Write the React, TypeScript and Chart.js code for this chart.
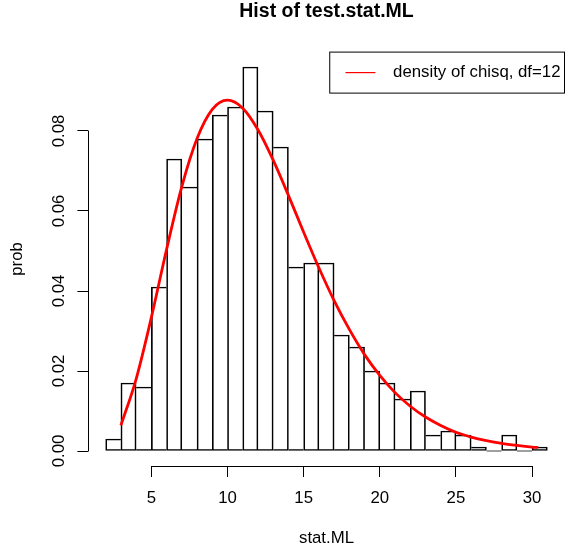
import React, { useEffect, useRef } from "react";
import { Chart, registerables } from "chart.js";

Chart.register(...registerables);

// ---- data ----
const binStarts = [2, 3, 4, 5, 6, 7, 8, 9, 10, 11, 12, 13, 14, 15, 16, 17, 18, 19, 20, 21, 22, 23, 24, 25, 26, 27, 28, 29, 30];
const binDensity = [
  0.003, 0.017, 0.016, 0.041, 0.073, 0.066, 0.078, 0.084, 0.086, 0.096,
  0.085, 0.076, 0.046, 0.047, 0.047, 0.029, 0.026, 0.020, 0.017, 0.013,
  0.015, 0.004, 0.005, 0.004, 0.001, 0, 0.004, 0, 0.001,
];
const binWidth = 1;
const curveX = [3, 4, 5, 6, 7, 8, 9, 10, 11, 12, 13, 14, 15, 16, 17, 18, 19, 20, 21, 22, 23, 24, 25, 26, 27, 28, 29, 30, 30.4];
const curveY = [
  0.0064, 0.018, 0.0334, 0.0504, 0.0661, 0.0781, 0.0854, 0.0877, 0.0857, 0.0803,
  0.0727, 0.0639, 0.0547, 0.0458, 0.0376, 0.0304, 0.0241, 0.0189, 0.0146, 0.0112,
  0.0085, 0.0064, 0.0047, 0.0035, 0.0026, 0.0019, 0.0014, 0.001, 0.0009,
];
const xTicks = [5, 10, 15, 20, 25, 30];
const yTicks = [0, 0.02, 0.04, 0.06, 0.08];
const titleText = "Hist of test.stat.ML";
const xTitle = "stat.ML";
const yTitle = "prob";
const legendLabel = "density of chisq, df=12";

const FAMILY = "'Liberation Sans', Arial, Helvetica, sans-serif";
const FONT_SIZE = 16.8;

// R-style 4% axis extension
const xLo = binStarts[0];
const xHi = binStarts[binStarts.length - 1] + binWidth;
const yHi = Math.max(...binDensity);
const xMin = xLo - (xHi - xLo) * 0.04;
const xMax = xHi + (xHi - xLo) * 0.04;
const yMin = -yHi * 0.04;
const yMax = yHi * 1.04;

// each shared edge is drawn once, by the taller of the two neighbouring bars
const barBorder = (c: any) => {
  const i = c.dataIndex;
  const n = binDensity.length;
  const h = binDensity[i];
  const left = i === 0 || h > binDensity[i - 1] ? 1 : 0;
  const right = i === n - 1 || h >= binDensity[i + 1] ? 1 : 0;
  return { left, right, top: 1, bottom: 1 };
};

const rStylePlugin = {
  id: "rStyle",
  afterDraw(chart: any) {
    const { ctx, chartArea, scales } = chart;
    const xs = scales.x;
    const ys = scales.y;
    ctx.save();
    ctx.strokeStyle = "#000";
    ctx.lineWidth = 1;
    // x axis line between first and last tick
    const ly = Math.round(xs.top - 0.5) + 0.5;
    ctx.beginPath();
    ctx.moveTo(Math.round(xs.getPixelForValue(xTicks[0]) - 0.5) + 0.5, ly);
    ctx.lineTo(Math.round(xs.getPixelForValue(xTicks[xTicks.length - 1]) - 0.5) + 0.5, ly);
    ctx.stroke();
    // y axis line between first and last tick
    const lx = Math.round(ys.right - 0.5) + 0.5;
    ctx.beginPath();
    ctx.moveTo(lx, Math.round(ys.getPixelForValue(yTicks[0]) - 0.5) + 0.5);
    ctx.lineTo(lx, Math.round(ys.getPixelForValue(yTicks[yTicks.length - 1]) - 0.5) + 0.5);
    ctx.stroke();

    // legend (top right, inside plot region)
    ctx.font = `${FONT_SIZE}px ${FAMILY}`;
    const tw = ctx.measureText(legendLabel).width;
    const right = chartArea.right - 0.5;
    const top = chartArea.top + 0.5;
    const h = 41;
    const left = right - (15.7 + 30 + 17.6 + tw + 4);
    ctx.fillStyle = "#fff";
    ctx.fillRect(left, top, right - left, h);
    ctx.strokeRect(left, top, right - left, h);
    const cy = top + h / 2;
    ctx.strokeStyle = "#ff0000";
    ctx.lineWidth = 1.2;
    ctx.beginPath();
    ctx.moveTo(left + 15.7, cy);
    ctx.lineTo(left + 45.7, cy);
    ctx.stroke();
    ctx.fillStyle = "#000";
    ctx.textBaseline = "middle";
    ctx.textAlign = "left";
    ctx.fillText(legendLabel, left + 63.3, cy);
    ctx.restore();
  },
};

export default function App() {
  const ref = useRef<HTMLCanvasElement | null>(null);

  useEffect(() => {
    if (!ref.current) return;
    const font = { family: FAMILY, size: FONT_SIZE };
    const chart = new Chart(ref.current, {
      type: "bar",
      data: {
        datasets: [
          {
            type: "line",
            label: legendLabel,
            data: curveX.map((x, i) => ({ x, y: curveY[i] })),
            borderColor: "#ff0000",
            borderWidth: 2.8,
            pointRadius: 0,
            cubicInterpolationMode: "monotone",
            fill: false,
            order: 0,
          } as any,
          {
            type: "bar",
            label: "hist",
            data: binStarts.map((s, i) => ({ x: s + binWidth / 2, y: binDensity[i] })),
            backgroundColor: "rgba(255,255,255,0)",
            borderColor: "#000",
            borderSkipped: false,
            borderWidth: barBorder,
            barPercentage: 1,
            categoryPercentage: 1,
            minBarLength: 1,
            order: 1,
          } as any,
        ],
      },
      options: {
        animation: false,
        responsive: false,
        maintainAspectRatio: false,
        layout: { padding: 0 },
        plugins: {
          legend: { display: false },
          tooltip: { enabled: false },
          title: {
            display: true,
            text: titleText,
            fullSize: false,
            color: "#000",
            font: { family: FAMILY, size: 19.5, weight: "bold", lineHeight: 1 },
            padding: { top: 2, bottom: 30.1 },
          },
        },
        scales: {
          x: {
            type: "linear",
            min: xMin,
            max: xMax,
            offset: false,
            grid: {
              display: true,
              offset: false,
              drawOnChartArea: false,
              drawTicks: true,
              tickLength: 10.6,
              tickColor: "#000",
              tickWidth: 1,
            },
            border: { display: false },
            ticks: {
              autoSkip: false,
              maxRotation: 0,
              minRotation: 0,
              padding: 10.9,
              color: "#000",
              font,
              callback: (v: any) => String(v),
            },
            title: {
              display: true,
              text: xTitle,
              color: "#000",
              font,
              padding: { top: 0, bottom: 4.9 },
            },
            afterBuildTicks: (s: any) => {
              s.ticks = xTicks.map((v) => ({ value: v }));
            },
            afterFit: (s: any) => {
              s.height = 86.6;
            },
          },
          y: {
            type: "linear",
            min: yMin,
            max: yMax,
            grid: {
              display: true,
              drawOnChartArea: false,
              drawTicks: true,
              tickLength: 10.6,
              tickColor: "#000",
              tickWidth: 1,
            },
            border: { display: false },
            ticks: {
              autoSkip: false,
              minRotation: 90,
              maxRotation: 90,
              crossAlign: "center",
              padding: 2,
              color: "#000",
              font,
              callback: (v: any) => Number(v).toFixed(2),
            },
            title: {
              display: true,
              text: yTitle,
              color: "#000",
              font,
              padding: { top: 7.4, bottom: 0 },
            },
            afterBuildTicks: (s: any) => {
              s.ticks = yTicks.map((v) => ({ value: v }));
            },
            afterFit: (s: any) => {
              s.width = 88;
            },
          },
        },
      } as any,
      plugins: [rStylePlugin],
    });
    return () => chart.destroy();
  }, []);

  return (
    <div style={{ position: "absolute", left: 0, top: 0, width: 565, height: 553, background: "#fff" }}>
      <canvas ref={ref} width={565} height={553} style={{ display: "block" }} />
    </div>
  );
}
